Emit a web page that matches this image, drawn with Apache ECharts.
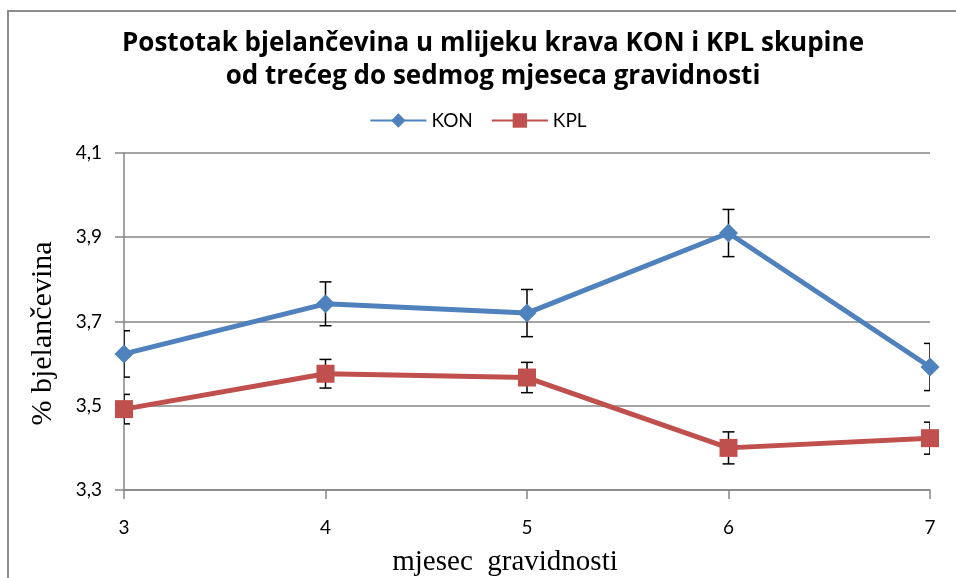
<!DOCTYPE html>
<html>
<head>
<meta charset="utf-8">
<title>Postotak bjelančevina</title>
<script src="https://cdn.jsdelivr.net/npm/echarts@6/dist/echarts.min.js"></script>
<style>
  html, body { margin: 0; padding: 0; background: #fff; }
</style>
</head>
<body>
<div id="chartmain" style="width: 956px; height: 578px;"></div>
<script type="text/javascript">
// podaci
var mjeseci = ['3', '4', '5', '6', '7'];
var kon = [3.623, 3.742, 3.720, 3.910, 3.592];
var konErr = [0.055, 0.052, 0.056, 0.056, 0.056];
var kpl = [3.492, 3.576, 3.567, 3.400, 3.423];
var kplErr = [0.035, 0.034, 0.036, 0.038, 0.038];

// error bar serija
function errorSeries(vals, errs) {
    var d = [];
    for (var i = 0; i < vals.length; i++) {
        d.push([i, vals[i] - errs[i], vals[i] + errs[i]]);
    }
    return {
        type: 'custom',
        clip: true,
        z: 1,
        silent: true,
        data: d,
        renderItem: function (params, api) {
            var lo = api.coord([api.value(0), api.value(1)]);
            var hi = api.coord([api.value(0), api.value(2)]);
            var hw = 6;
            var st = { stroke: '#000', lineWidth: 1.5 };
            return {
                type: 'group',
                children: [
                    { type: 'line', shape: { x1: lo[0], y1: lo[1], x2: hi[0], y2: hi[1] }, style: st },
                    { type: 'line', shape: { x1: lo[0] - hw, y1: lo[1], x2: lo[0] + hw, y2: lo[1] }, style: st },
                    { type: 'line', shape: { x1: hi[0] - hw, y1: hi[1], x2: hi[0] + hw, y2: hi[1] }, style: st }
                ]
            };
        }
    };
}

var myChart = echarts.init(document.getElementById('chartmain'));
var option = {
    animation: false,
    backgroundColor: '#fff',
    graphic: [{
        type: 'rect',
        shape: { x: 8, y: 11, width: 1000, height: 700 },
        style: { fill: 'none', stroke: '#8c8c8c', lineWidth: 2 },
        z: -1
    }],
    title: {
        text: 'Postotak bjelančevina u mlijeku krava KON i KPL skupine\nod trećeg do sedmog mjeseca gravidnosti',
        left: 488,
        textAlign: 'center',
        top: 22,
        textStyle: {
            fontFamily: 'Open Sans',
            fontWeight: 'bold',
            fontSize: 26,
            lineHeight: 33,
            color: '#000'
        }
    },
    legend: {
        top: 106,
        left: 'center',
        itemWidth: 56,
        itemHeight: 18,
        itemGap: 18,
        textStyle: { fontFamily: 'Lato', fontSize: 19, color: '#000' },
        data: ['KON', 'KPL']
    },
    grid: { left: 124, right: 26, top: 153, bottom: 88, outerBoundsMode: 'none' },
    xAxis: {
        type: 'category',
        data: mjeseci,
        boundaryGap: false,
        name: 'mjesec  gravidnosti',
        nameLocation: 'middle',
        nameGap: 58,
        nameTextStyle: { fontFamily: 'Liberation Serif', fontSize: 29, color: '#000', padding: [0, 44, 0, 0] },
        axisLine: { lineStyle: { color: '#868686', width: 1.5 } },
        axisTick: { alignWithLabel: true, length: 9, lineStyle: { color: '#868686', width: 1.5 } },
        axisLabel: { margin: 28, fontFamily: 'Lato', fontSize: 19, color: '#000' }
    },
    yAxis: {
        type: 'value',
        min: 3.3,
        max: 4.1,
        interval: 0.2,
        name: '% bjelančevina',
        nameLocation: 'middle',
        nameGap: 66,
        nameTextStyle: { fontFamily: 'Liberation Serif', fontSize: 30, color: '#000', padding: [0, 24, 0, 0] },
        axisLine: { show: true, lineStyle: { color: '#868686', width: 1.5 } },
        axisTick: { show: true, length: 9, lineStyle: { color: '#868686', width: 1.5 } },
        splitLine: { lineStyle: { color: '#868686', width: 1.5 } },
        axisLabel: {
            margin: 22,
            fontFamily: 'Lato',
            fontSize: 19,
            color: '#000',
            formatter: function (v) { return v.toFixed(1).replace('.', ','); }
        }
    },
    series: [
        errorSeries(kon, konErr),
        errorSeries(kpl, kplErr),
        {
            name: 'KON',
            type: 'line',
            data: kon,
            z: 3,
            symbol: 'diamond',
            symbolSize: 19,
            itemStyle: { color: '#4F81BD' },
            lineStyle: { color: '#4F81BD', width: 5 }
        },
        {
            name: 'KPL',
            type: 'line',
            data: kpl,
            z: 3,
            symbol: 'rect',
            symbolSize: 18,
            itemStyle: { color: '#C0504D' },
            lineStyle: { color: '#C0504D', width: 5 }
        }
    ]
};
myChart.setOption(option);
</script>
</body>
</html>
